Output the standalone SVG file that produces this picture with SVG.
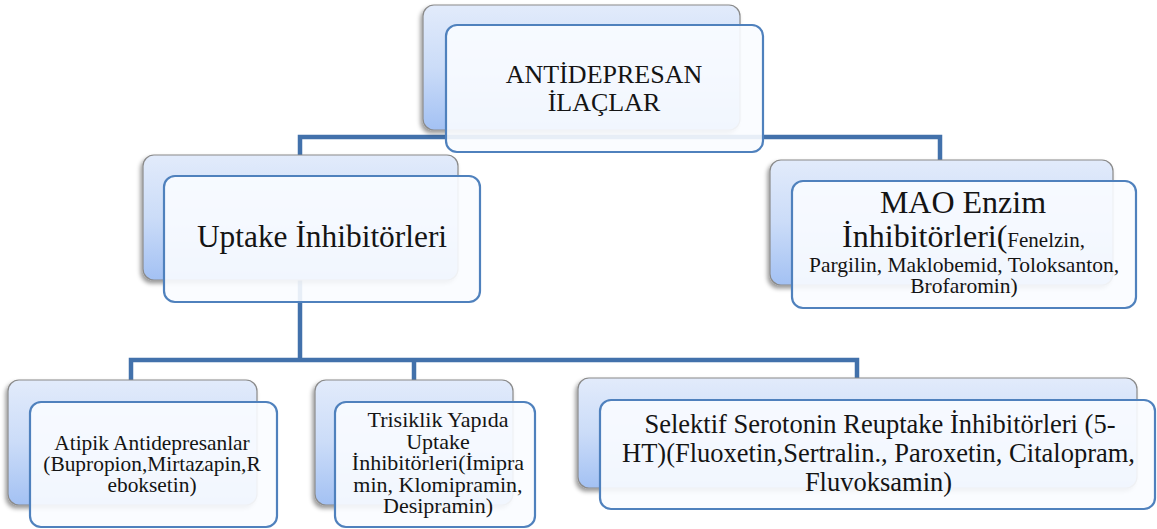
<svg xmlns="http://www.w3.org/2000/svg" width="1157" height="529" viewBox="0 0 1157 529">
<defs>
<linearGradient id="bg" x1="0" y1="0" x2="0" y2="1">
<stop offset="0" stop-color="#e2ebfb"/>
<stop offset="0.5" stop-color="#cbdcf8"/>
<stop offset="1" stop-color="#a3c1f3"/>
</linearGradient>
<filter id="sh" x="-10%" y="-10%" width="120%" height="130%">
<feDropShadow dx="-2" dy="3" stdDeviation="2" flood-color="#000" flood-opacity="0.4"/>
</filter>
<style>
.back{fill:url(#bg);stroke:#8a8a8a;stroke-width:1.2;filter:url(#sh)}
.front{fill:#fafcff;fill-opacity:0.9;stroke:#4f81bd;stroke-width:2.2}
.conn{fill:none;stroke:#4271ab;stroke-width:4.5;stroke-linejoin:miter}
text{font-family:"Liberation Serif","Times New Roman",serif;fill:#141414;text-anchor:middle}
</style>
</defs>
<rect width="1157" height="529" fill="#ffffff"/>
<g id="connectors">
<path class="conn" d="M300,157 V137 H940 V162"/>
<path class="conn" d="M300,280 V360"/>
<path class="conn" d="M131,382 V360 H857 V380"/>
<path class="conn" d="M414,360 V382"/>
</g>
<g id="node-antidepresan">
<rect class="back" x="423" y="5" width="317" height="125" rx="11"/>
<rect class="front" x="446" y="25" width="317" height="127" rx="11"/>
<text x="604" y="83" font-size="26">ANTİDEPRESAN</text>
<text x="604" y="110.5" font-size="26">İLAÇLAR</text>
</g>
<g id="node-uptake">
<rect class="back" x="143" y="155" width="315" height="125" rx="11"/>
<rect class="front" x="164" y="176" width="316" height="126" rx="11"/>
<text x="322" y="247" font-size="31.4">Uptake İnhibitörleri</text>
</g>
<g id="node-mao">
<rect class="back" x="770" y="160" width="343" height="125" rx="11"/>
<rect class="front" x="792" y="181" width="344" height="127" rx="11"/>
<text x="963" y="213" font-size="32">MAO Enzim</text>
<text x="963.5" y="247"><tspan font-size="32">İnhibitörleri(</tspan><tspan font-size="21">Fenelzin,</tspan></text>
<text x="964" y="272" font-size="21.5">Pargilin, Maklobemid, Toloksanton,</text>
<text x="964" y="293" font-size="21.5">Brofaromin)</text>
</g>
<g id="node-atipik">
<rect class="back" x="8" y="380" width="249" height="125" rx="11"/>
<rect class="front" x="30" y="402" width="247" height="125" rx="11"/>
<text x="152" y="450" font-size="21.4">Atipik Antidepresanlar</text>
<text x="152" y="471" font-size="21.4">(Bupropion,Mirtazapin,R</text>
<text x="152" y="492" font-size="21.4">eboksetin)</text>
</g>
<g id="node-trisiklik">
<rect class="back" x="315" y="380" width="198" height="125" rx="11"/>
<rect class="front" x="335" y="402" width="200" height="125" rx="11"/>
<text x="438" y="427" font-size="22">Trisiklik Yapıda</text>
<text x="438" y="448.5" font-size="22">Uptake</text>
<text x="438" y="470" font-size="22">İnhibitörleri(İmipra</text>
<text x="438" y="491.5" font-size="22">min, Klomipramin,</text>
<text x="438" y="513" font-size="22">Desipramin)</text>
</g>
<g id="node-selektif">
<rect class="back" x="578" y="378" width="559" height="110" rx="11"/>
<rect class="front" x="600" y="400" width="555" height="109" rx="11"/>
<text x="880" y="433" font-size="26.5">Selektif Serotonin Reuptake İnhibitörleri (5-</text>
<text x="878.5" y="462" font-size="26.5">HT)(Fluoxetin,Sertralin., Paroxetin, Citalopram,</text>
<text x="878.5" y="491" font-size="26.5">Fluvoksamin)</text>
</g>
</svg>
